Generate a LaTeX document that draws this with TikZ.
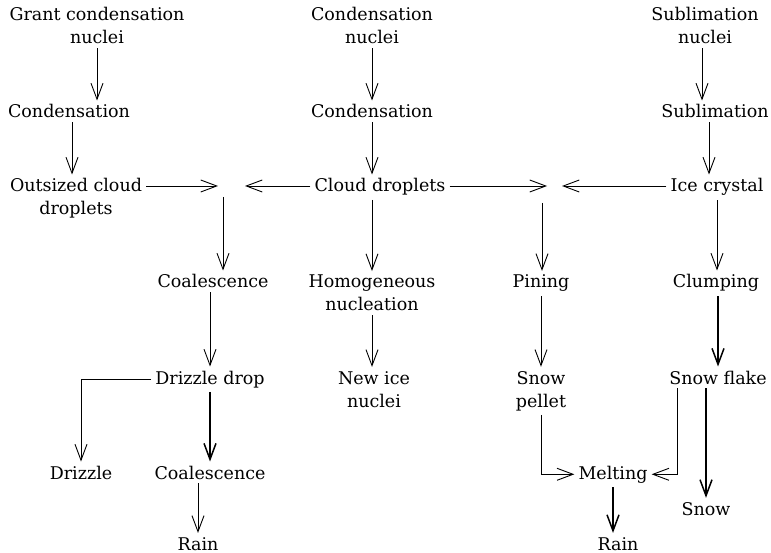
\documentclass[tikz,border=0pt]{standalone}
\usepackage{fontspec}
\setmainfont{DejaVu Serif}
\usepackage{tikz}
\usetikzlibrary{arrows.meta}
\newcommand{\lblfont}{\fontsize{17.5}{23}\selectfont}

\begin{document}
\begin{tikzpicture}[x=1pt, y=-1pt, >={Straight Barb[length=16pt,width=12pt]},
    lbl/.style={font=\lblfont, align=center, anchor=base, inner sep=4pt},
    flow/.style={->, line width=0.9pt},
    bflow/.style={->, line width=1.5pt}]
  \useasboundingbox (0,0) rectangle (771,553);
  % sources of nuclei (base = last line)
  \node[lbl] (gcn) at (97,44) {Grant condensation\\nuclei};
  \node[lbl] (ccn) at (372,44) {Condensation\\nuclei};
  \node[lbl] (scn) at (705,44) {Sublimation\\nuclei};
  % first step
  \node[lbl] (gcond) at (69,118) {Condensation};
  \node[lbl] (ccond) at (372,118) {Condensation};
  \node[lbl] (scond) at (715,118) {Sublimation};
  % droplets and crystals
  \node[lbl] (outs) at (76,215) {Outsized cloud\\droplets};
  \node[lbl] (cd) at (380,192) {Cloud droplets};
  \node[lbl] (ice) at (717,192) {Ice crystal};
  \coordinate (jl) at (223,186);
  \coordinate (jr) at (542,186);
  % growth processes
  \node[lbl] (coal1) at (213,288) {Coalescence};
  \node[lbl] (homo) at (372,311) {Homogeneous\\nucleation};
  \node[lbl] (pin) at (541,288) {Pining};
  \node[lbl] (clump) at (716,288) {Clumping};
  \node[lbl] (ddrop) at (210,384) {Drizzle drop};
  \node[lbl] (newice) at (374,407) {New ice\\nuclei};
  \node[lbl] (pellet) at (541,407) {Snow\\pellet};
  \node[lbl] (flake) at (718,384) {Snow flake};
  % what falls out
  \node[lbl] (drz) at (81,479) {Drizzle};
  \node[lbl] (coal2) at (210,479) {Coalescence};
  \node[lbl] (melt) at (613,479) {Melting};
  \node[lbl] (snow) at (706,515) {Snow};
  \node[lbl] (rainl) at (198,550) {Rain};
  \node[lbl] (rainr) at (618,550) {Rain};

  % vertical chains
  \draw[flow] (gcn.south) -- (gcn.south |- gcond.north);
  \draw[flow] ([xshift=3]gcond.south) -- ([xshift=3]gcond.south |- outs.north);
  \draw[flow] (ccn.south) -- (ccn.south |- ccond.north);
  \draw[flow] (ccond.south) -- (ccond.south |- cd.north);
  \draw[flow] ([xshift=-3]scn.south) -- ([xshift=-3]scn.south |- scond.north);
  \draw[flow] ([xshift=-6]scond.south) -- ([xshift=-6]scond.south |- ice.north);
  % into the two meeting points
  \draw[flow] (outs.north east |- jl) -- ([xshift=-5]jl);
  \draw[flow] (cd.west |- jl) -- ([xshift=22]jl);
  \draw[flow] (cd.east |- jr) -- ([xshift=5]jr);
  \draw[flow] (ice.west |- jr) -- ([xshift=20]jr);
  % out of them
  \draw[flow] ([yshift=-11]jl) -- (jl |- coal1.north);
  \draw[flow] (homo.north |- cd.south) -- (homo.north);
  \draw[flow] ([yshift=-17]jr) -- (jr |- pin.north);
  \draw[flow] (ice.south) -- (ice.south |- clump.north);
  % second row
  \draw[flow] (ddrop.north |- coal1.south) -- (ddrop.north);
  \draw[flow] (homo.south) -- (homo.south |- newice.north);
  \draw[flow] (pin.south) -- (pin.south |- pellet.north);
  \draw[bflow] (flake.north |- clump.south) -- (flake.north);
  % drizzle branch
  \draw[flow] (ddrop.west) -| (drz.north);
  \draw[bflow] (ddrop.south) -- (ddrop.south |- coal2.north);
  \draw[flow] (rainl.north |- coal2.south) -- (rainl.north);
  % ice branch
  \draw[flow] (pellet.south) |- (melt.west);
  \draw[flow] ([xshift=-41]flake.south) |- (melt.east);
  \draw[bflow] (snow.north |- flake.south) -- (snow.north);
  \draw[bflow] (melt.south) -- (melt.south |- rainr.north);
\end{tikzpicture}
\end{document}
